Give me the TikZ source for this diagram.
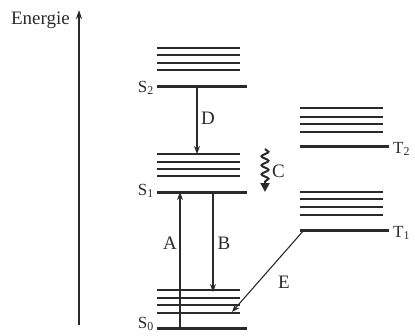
\documentclass[tikz,border=0pt]{standalone}
\usepackage{fontspec}
\setmainfont{Liberation Serif}
\usetikzlibrary{arrows.meta,decorations.pathmorphing}
\definecolor{ink}{HTML}{2A2A2A}
\tikzset{
  lvl/.style={line width=3pt,ink},
  sub/.style={line width=1.6pt,ink},
  trans/.style={line width=1.1pt,ink,-{Stealth[length=8pt,width=6pt]}},
  lbl/.style={font=\fontsize{19}{19}\selectfont,ink,inner sep=1pt},
  slbl/.style={font=\fontsize{17}{17}\selectfont,ink,inner sep=1pt}
}
\newcommand{\vib}[3]{% x1, x2, list of y
  \foreach \yy in {#3} {\draw[sub] (#1,\yy) -- (#2,\yy);}}
\begin{document}
\begin{tikzpicture}[x=1pt,y=-1pt]
\useasboundingbox (0,0) rectangle (415,335);
% energy axis
\coordinate (ax0) at (79,325);
\coordinate (ax1) at (79,10);
\draw[line width=1.3pt,ink,-{Stealth[length=9pt,width=6pt]}] (ax0) -- (ax1);
\node[lbl,anchor=east] (energie) at (71,20) {Energie};
% S2
\coordinate (S2l) at (157,86); \coordinate (S2r) at (247,86);
\draw[lvl] (S2l) -- (S2r);
\vib{157}{240}{48,55,63,70}
\node[slbl,anchor=east] (s2lab) at (155,88) {S\textsubscript{2}};
% S1
\coordinate (S1l) at (157,192); \coordinate (S1r) at (247,192);
\draw[lvl] (S1l) -- (S1r);
\vib{157}{240}{154,162,169,176}
\node[slbl,anchor=east] (s1lab) at (155,191) {S\textsubscript{1}};
% S0
\coordinate (S0l) at (157,328); \coordinate (S0r) at (247,328);
\draw[lvl] (S0l) -- (S0r);
\vib{157}{240}{290,298,305,313}
\node[slbl,anchor=east] (s0lab) at (155,324) {S\textsubscript{0}};
% T2
\coordinate (T2l) at (300,146); \coordinate (T2r) at (389,146);
\draw[lvl] (T2l) -- (T2r);
\vib{300}{383}{108,117,124,132}
\node[slbl,anchor=west] (t2lab) at (392,149) {T\textsubscript{2}};
% T1
\coordinate (T1l) at (300,230); \coordinate (T1r) at (389,230);
\draw[lvl] (T1l) -- (T1r);
\vib{300}{383}{192,199,207,215}
\node[slbl,anchor=west] (t1lab) at (392,233) {T\textsubscript{1}};
% transitions
\coordinate (Dtop) at (197,86); \coordinate (Dbot) at (197,154);
\draw[trans] (Dtop) -- (Dbot);
\node[lbl] (dlab) at (208,118) {D};
\coordinate (Abot) at (180,328); \coordinate (Atop) at (180,192);
\draw[trans] (Abot) -- (Atop);
\node[lbl] (alab) at (170,243) {A};
\coordinate (Btop) at (213,192); \coordinate (Bbot) at (213,292);
\draw[trans] (Btop) -- (Bbot);
\node[lbl] (blab) at (224,243) {B};
\coordinate (Etop) at (304,230); \coordinate (Ebot) at (232,312);
\draw[trans] (Etop) -- (Ebot);
\node[lbl] (elab) at (284,282) {E};
% C wavy
\coordinate (Ctop) at (265,149); \coordinate (Cbot) at (265,192);
\draw[line width=2pt,ink,decorate,decoration={snake,amplitude=3.5pt,segment length=9pt,post length=9pt},-{Triangle[length=9pt,width=9pt]}] (Ctop) -- (Cbot);
\node[lbl,anchor=west] (clab) at (271,171) {C};
\end{tikzpicture}
\end{document}
